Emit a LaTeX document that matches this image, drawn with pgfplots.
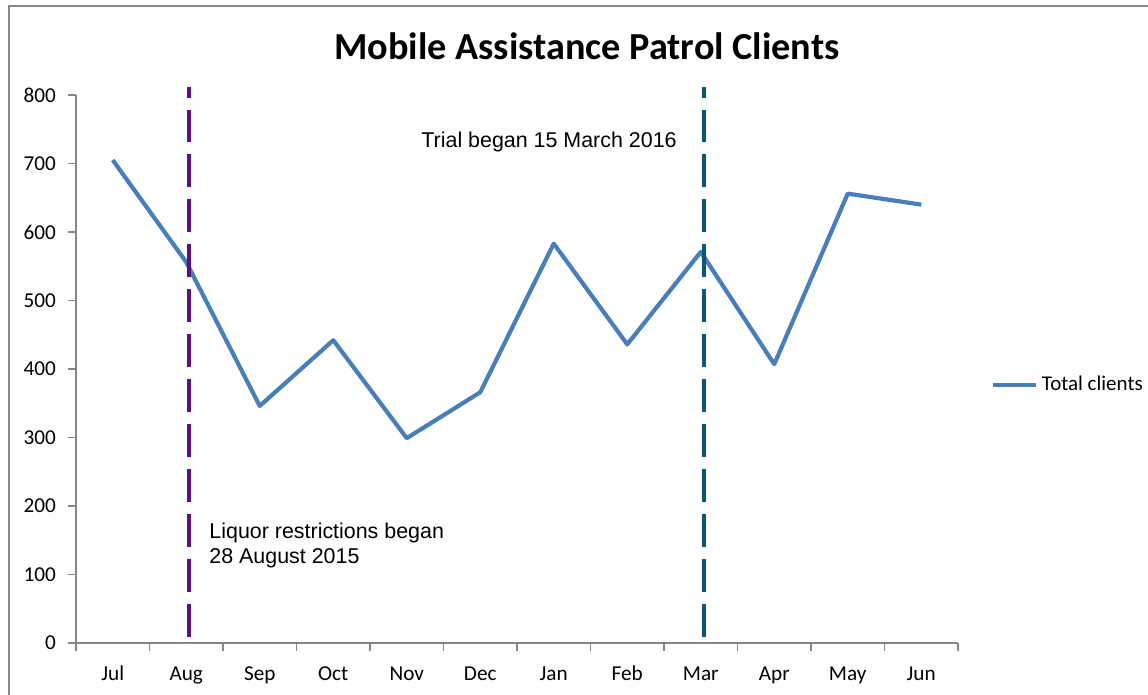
\documentclass[border=0pt]{standalone}
\usepackage{fontspec}
\setmainfont{Carlito}
\newfontfamily\arial{Liberation Sans}
\usepackage{pgfplots}
\pgfplotsset{compat=1.18}
\definecolor{series}{RGB}{74,126,187}
\definecolor{liquor}{RGB}{90,15,130}
\definecolor{trial}{RGB}{12,88,112}
\definecolor{axisgray}{RGB}{134,134,134}

\begin{document}
\begin{tikzpicture}
\useasboundingbox (0,0) rectangle (546.67pt,330.48pt);
% chart area border (right and bottom edges fall outside the picture)
\draw[axisgray, line width=0.95pt] (4.29pt,-20pt) rectangle (580pt,327.6pt);
\node[font=\bfseries\fontsize{18.2}{21.8}\selectfont] at (279.5pt,308.6pt) {Mobile Assistance Patrol Clients};
\begin{axis}[
  at={(36.19pt,24.29pt)}, anchor=south west,
  scale only axis, width=420pt, height=260.95pt,
  xmin=-0.5, xmax=11.5, ymin=0, ymax=800,
  axis x line=bottom, axis y line=left,
  axis line style={-, axisgray, line width=0.7pt},
  xtick={-0.5,0.5,...,11.5},
  x tick label as interval,
  xticklabels={Jul,Aug,Sep,Oct,Nov,Dec,Jan,Feb,Mar,Apr,May,Jun},
  ytick={0,100,...,800},
  tick align=outside, major tick length=3.6pt,
  tick style={axisgray, line width=0.7pt},
  ticklabel style={font=\fontsize{10.1}{12}\selectfont, text=black},
  xticklabel style={yshift=-3.6pt, text height=7.2pt, text depth=2.2pt},
  yticklabel style={xshift=-2.4pt},
  /pgf/number format/assume math mode=true,
  clip=false,
  legend style={at={(1.0363,0.4708)}, anchor=west, draw=none, fill=none,
    inner sep=0pt, font=\fontsize{10}{12}\selectfont},
  legend image code/.code={\draw[#1] (0pt,0pt) -- (20.5pt,0pt);},
]
\addplot[series, line width=2pt, line join=round] coordinates {
  (0,705)(1,556)(2,346)(3,442)(4,299)(5,366)
  (6,583)(7,436)(8,571)(9,407)(10,656)(11,640)};
\addlegendentry{Total clients}
% event markers
\addplot[forget plot, liquor, line width=1.9pt, dash pattern=on 15.7pt off 5.7pt]
  coordinates {(1.04,9)(1.04,812)};
\addplot[forget plot, trial, line width=1.9pt, dash pattern=on 15.7pt off 5.7pt]
  coordinates {(8.05,9)(8.05,812)};
\node[anchor=west, inner sep=0pt, font=\arial\fontsize{10.2}{12}\selectfont]
  at (axis cs:4.194,731) {Trial began 15 March 2016};
\node[anchor=west, inner sep=0pt, align=left, font=\arial\fontsize{10.2}{11.9}\selectfont]
  at (axis cs:1.31,142) {Liquor restrictions began\\28 August 2015};
\end{axis}
\end{tikzpicture}
\end{document}
